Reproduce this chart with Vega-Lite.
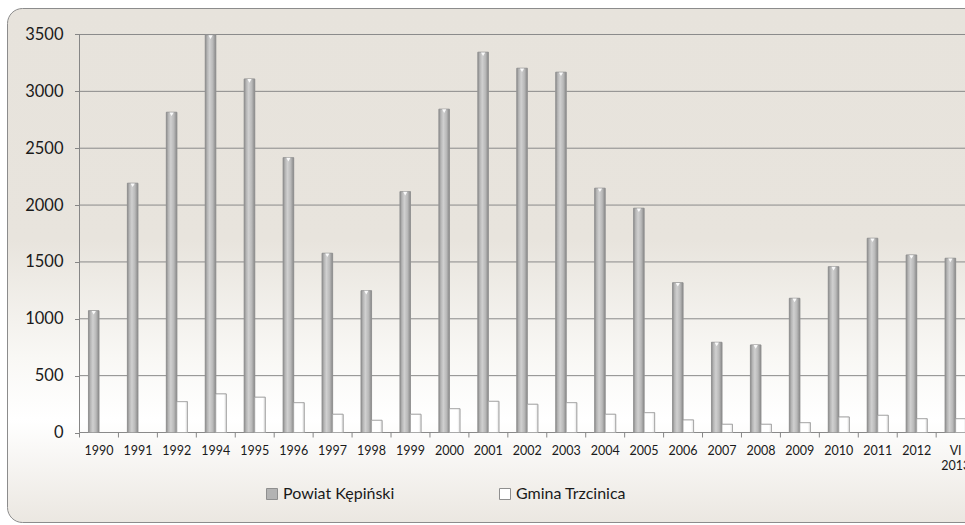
{
  "$schema": "https://vega.github.io/schema/vega-lite/v6.json",
  "width": 1041,
  "height": 514,
  "padding": {"left": 7, "top": 8, "right": 0, "bottom": 3},
  "background": "white",
  "config": {
    "font": "Lato",
    "view": {
      "cornerRadius": 15,
      "stroke": "#8c8c8c",
      "strokeWidth": 1,
      "fill": {
        "gradient": "linear", "x1": 0, "y1": 0, "x2": 0, "y2": 1,
        "stops": [
          {"offset": 0, "color": "#e7e3dc"},
          {"offset": 0.45, "color": "#e8e4dd"},
          {"offset": 0.68, "color": "#f9f8f5"},
          {"offset": 0.8, "color": "#ffffff"},
          {"offset": 1, "color": "#ebe7e1"}
        ]
      }
    },
    "legend": {
      "orient": "none",
      "legendX": 257,
      "legendY": 478,
      "direction": "horizontal",
      "title": null,
      "padding": 0,
      "symbolType": "square",
      "symbolSize": 121,
      "symbolStrokeColor": "#8f8f8f",
      "symbolStrokeWidth": 1,
      "labelFont": "Lato",
      "labelFontSize": 16,
      "labelColor": "#1a1a1a",
      "labelOffset": 3,
      "columnPadding": 102
    }
  },
  "datasets": {
    "bars": [
      {"rok": "1990", "seria": "Powiat Kępiński", "wartosc": 1071},
      {"rok": "1991", "seria": "Powiat Kępiński", "wartosc": 2192},
      {"rok": "1992", "seria": "Powiat Kępiński", "wartosc": 2816},
      {"rok": "1994", "seria": "Powiat Kępiński", "wartosc": 3495},
      {"rok": "1995", "seria": "Powiat Kępiński", "wartosc": 3109},
      {"rok": "1996", "seria": "Powiat Kępiński", "wartosc": 2417},
      {"rok": "1997", "seria": "Powiat Kępiński", "wartosc": 1576},
      {"rok": "1998", "seria": "Powiat Kępiński", "wartosc": 1247},
      {"rok": "1999", "seria": "Powiat Kępiński", "wartosc": 2118},
      {"rok": "2000", "seria": "Powiat Kępiński", "wartosc": 2843},
      {"rok": "2001", "seria": "Powiat Kępiński", "wartosc": 3344},
      {"rok": "2002", "seria": "Powiat Kępiński", "wartosc": 3203},
      {"rok": "2003", "seria": "Powiat Kępiński", "wartosc": 3168},
      {"rok": "2004", "seria": "Powiat Kępiński", "wartosc": 2148},
      {"rok": "2005", "seria": "Powiat Kępiński", "wartosc": 1972},
      {"rok": "2006", "seria": "Powiat Kępiński", "wartosc": 1317},
      {"rok": "2007", "seria": "Powiat Kępiński", "wartosc": 793},
      {"rok": "2008", "seria": "Powiat Kępiński", "wartosc": 770},
      {"rok": "2009", "seria": "Powiat Kępiński", "wartosc": 1180},
      {"rok": "2010", "seria": "Powiat Kępiński", "wartosc": 1458},
      {"rok": "2011", "seria": "Powiat Kępiński", "wartosc": 1708},
      {"rok": "2012", "seria": "Powiat Kępiński", "wartosc": 1561},
      {"rok": "VI 2013", "seria": "Powiat Kępiński", "wartosc": 1532},
      {"rok": "1992", "seria": "Gmina Trzcinica", "wartosc": 271},
      {"rok": "1994", "seria": "Gmina Trzcinica", "wartosc": 339},
      {"rok": "1995", "seria": "Gmina Trzcinica", "wartosc": 310},
      {"rok": "1996", "seria": "Gmina Trzcinica", "wartosc": 262},
      {"rok": "1997", "seria": "Gmina Trzcinica", "wartosc": 160},
      {"rok": "1998", "seria": "Gmina Trzcinica", "wartosc": 107},
      {"rok": "1999", "seria": "Gmina Trzcinica", "wartosc": 160},
      {"rok": "2000", "seria": "Gmina Trzcinica", "wartosc": 209},
      {"rok": "2001", "seria": "Gmina Trzcinica", "wartosc": 274},
      {"rok": "2002", "seria": "Gmina Trzcinica", "wartosc": 248},
      {"rok": "2003", "seria": "Gmina Trzcinica", "wartosc": 262},
      {"rok": "2004", "seria": "Gmina Trzcinica", "wartosc": 160},
      {"rok": "2005", "seria": "Gmina Trzcinica", "wartosc": 174},
      {"rok": "2006", "seria": "Gmina Trzcinica", "wartosc": 110},
      {"rok": "2007", "seria": "Gmina Trzcinica", "wartosc": 72},
      {"rok": "2008", "seria": "Gmina Trzcinica", "wartosc": 72},
      {"rok": "2009", "seria": "Gmina Trzcinica", "wartosc": 86},
      {"rok": "2010", "seria": "Gmina Trzcinica", "wartosc": 136},
      {"rok": "2011", "seria": "Gmina Trzcinica", "wartosc": 151},
      {"rok": "2012", "seria": "Gmina Trzcinica", "wartosc": 121},
      {"rok": "VI 2013", "seria": "Gmina Trzcinica", "wartosc": 121}
    ],
    "grid": [
      {"g": 0}, {"g": 500}, {"g": 1000}, {"g": 1500},
      {"g": 2000}, {"g": 2500}, {"g": 3000}, {"g": 3500}
    ],
    "ticks": [
      {"rok": "1990"}, {"rok": "1991"}, {"rok": "1992"}, {"rok": "1994"},
      {"rok": "1995"}, {"rok": "1996"}, {"rok": "1997"}, {"rok": "1998"},
      {"rok": "1999"}, {"rok": "2000"}, {"rok": "2001"}, {"rok": "2002"},
      {"rok": "2003"}, {"rok": "2004"}, {"rok": "2005"}, {"rok": "2006"},
      {"rok": "2007"}, {"rok": "2008"}, {"rok": "2009"}, {"rok": "2010"},
      {"rok": "2011"}, {"rok": "2012"}, {"rok": "VI 2013"}
    ]
  },
  "layer": [
    {
      "data": {"name": "grid"},
      "mark": {"type": "rule", "color": "#8a8a8a", "strokeWidth": 1},
      "encoding": {
        "y": {"field": "g", "type": "quantitative"},
        "x": {"datum": "1990", "bandPosition": -0.427},
        "x2": {"value": "width"}
      }
    },
    {
      "data": {"name": "ticks"},
      "mark": {"type": "rule", "color": "#868686", "strokeWidth": 1},
      "encoding": {
        "x": {"field": "rok", "type": "nominal", "bandPosition": -0.427},
        "y": {"datum": 0},
        "y2": {"datum": -44}
      }
    },
    {
      "data": {"name": "bars"},
      "mark": {"type": "bar", "stroke": "#a0a0a0", "strokeWidth": 0.8},
      "encoding": {
        "x": {
          "field": "rok", "type": "nominal",
          "scale": {
            "domain": ["1990","1991","1992","1994","1995","1996","1997","1998","1999","2000","2001","2002","2003","2004","2005","2006","2007","2008","2009","2010","2011","2012","VI 2013"],
            "range": [72.5, 968.1],
            "paddingInner": 0.4607,
            "paddingOuter": 0.23035
          },
          "axis": {
            "title": null,
            "orient": "bottom",
            "offset": -89.5,
            "domain": false,
            "grid": false,
            "ticks": true,
            "tickSize": 5,
            "tickOpacity": 0,
            "labelAngle": 0,
            "labelAlign": "center",
            "labelFont": "Lato",
            "labelFontSize": 12.5,
            "labelColor": "#1a1a1a",
            "labelPadding": 13,
            "labelOverlap": false,
            "labelBound": false,
            "labelExpr": "split(datum.label, ' ')",
            "labelLineHeight": 15
          }
        },
        "xOffset": {
          "field": "seria", "type": "nominal",
          "scale": {"domain": ["Powiat Kępiński", "Gmina Trzcinica"], "paddingInner": 0, "paddingOuter": 0}
        },
        "y": {
          "field": "wartosc", "type": "quantitative",
          "scale": {"domain": [-787, 3733], "nice": false, "zero": false},
          "axis": {
            "title": null,
            "orient": "left",
            "offset": -72.5,
            "domain": false,
            "grid": false,
            "values": [0, 500, 1000, 1500, 2000, 2500, 3000, 3500],
            "format": "d",
            "tickSize": 5,
            "tickColor": "#868686",
            "labelFont": "Lato",
            "labelFontSize": 16.5,
            "labelColor": "#1a1a1a",
            "labelPadding": 11.5
          }
        },
        "color": {
          "field": "seria", "type": "nominal",
          "scale": {"domain": ["Powiat Kępiński", "Gmina Trzcinica"], "range": ["#b3b3b3", "#ffffff"]},
          "legend": {}
        }
      }
    },
    {
      "data": {"name": "bars"},
      "transform": [{"filter": "datum.seria == 'Powiat Kępiński'"}],
      "mark": {
        "type": "bar",
        "stroke": "#8e8e8e",
        "strokeWidth": 0.5,
        "color": {
          "gradient": "linear", "x1": 0, "y1": 0, "x2": 1, "y2": 0,
          "stops": [
            {"offset": 0, "color": "#8a8a8a"},
            {"offset": 0.18, "color": "#b4b4b4"},
            {"offset": 0.42, "color": "#d0d0d0"},
            {"offset": 0.72, "color": "#b9b9b9"},
            {"offset": 1, "color": "#888888"}
          ]
        }
      },
      "encoding": {
        "x": {"field": "rok", "type": "nominal"},
        "xOffset": {"field": "seria", "type": "nominal"},
        "y": {"field": "wartosc", "type": "quantitative"}
      }
    },
    {
      "data": {"name": "bars"},
      "transform": [{"filter": "datum.seria == 'Powiat Kępiński'"}],
      "mark": {"type": "point", "shape": "triangle-down", "size": 18, "filled": true, "color": "#ffffff", "opacity": 0.9, "yOffset": 2},
      "encoding": {
        "x": {"field": "rok", "type": "nominal"},
        "xOffset": {"field": "seria", "type": "nominal"},
        "y": {"field": "wartosc", "type": "quantitative"}
      }
    },
    {
      "data": {"name": "bars"},
      "transform": [{"filter": "datum.seria == 'Gmina Trzcinica'"}],
      "mark": {
        "type": "bar",
        "stroke": "#a0a0a0",
        "strokeWidth": 0.8,
        "color": {
          "gradient": "linear", "x1": 0, "y1": 0, "x2": 1, "y2": 0,
          "stops": [
            {"offset": 0, "color": "#ffffff"},
            {"offset": 0.75, "color": "#ffffff"},
            {"offset": 1, "color": "#e2e2e2"}
          ]
        }
      },
      "encoding": {
        "x": {"field": "rok", "type": "nominal"},
        "xOffset": {"field": "seria", "type": "nominal"},
        "y": {"field": "wartosc", "type": "quantitative"}
      }
    },
    {
      "data": {"values": [{"a": 0, "b": 3500}]},
      "mark": {"type": "rule", "color": "#868686", "strokeWidth": 1},
      "encoding": {
        "x": {"datum": "1990", "bandPosition": -0.427},
        "y": {"field": "a", "type": "quantitative"},
        "y2": {"field": "b"}
      }
    }
  ]
}
